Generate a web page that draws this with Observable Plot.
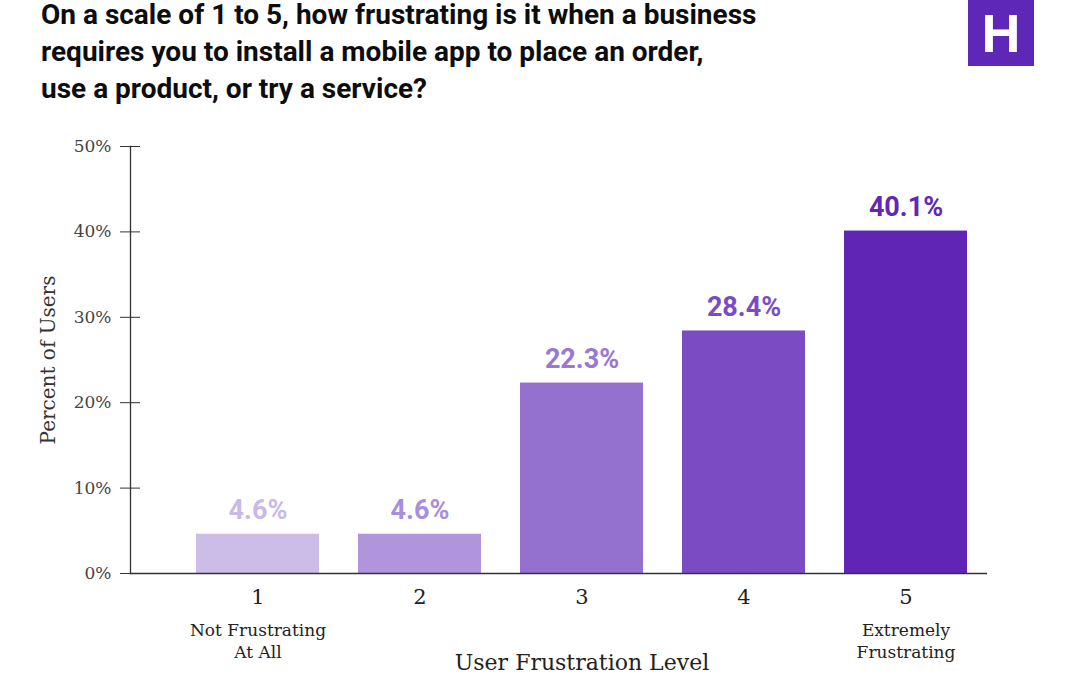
<!DOCTYPE html>
<html>
<head>
<meta charset="utf-8">
<script src="https://cdn.jsdelivr.net/npm/d3@7"></script>
<script src="https://cdn.jsdelivr.net/npm/@observablehq/plot@0.6"></script>
<style>
  html, body { margin: 0; padding: 0; background: #fff; width: 1080px; height: 675px; overflow: hidden; }
  #wrap { position: relative; width: 1080px; height: 675px; }
  #title { position: absolute; left: 41px; top: -4px; margin: 0; font-family: "Roboto", sans-serif; font-weight: 700; font-size: 28px; line-height: 37px; color: #0d0d0d; }
  #logo { position: absolute; left: 968px; top: 0px; width: 66px; height: 66px; background: #5f27b7; color: #fff; font-family: "Liberation Sans", sans-serif; font-weight: 700; font-size: 54px; line-height: 66px; text-align: center; }
  #chart { position: absolute; left: 0; top: 110px; }
</style>
</head>
<body>
<div id="wrap">
  <div id="title">On a scale of 1 to 5, how frustrating is it when a business<br>requires you to install a mobile app to place an order,<br>use a product, or try a service?</div>
  <div id="logo">H</div>
  <div id="chart"></div>
</div>
<script>
const levels = ["1", "2", "3", "4", "5"];
const percents = [4.6, 4.6, 22.3, 28.4, 40.1];
const valueLabels = ["4.6%", "4.6%", "22.3%", "28.4%", "40.1%"];
const subLabels = ["Not Frustrating\nAt All", "", "", "", "Extremely\nFrustrating"];
const barColors = ["#cbbde8", "#b095dc", "#9571cf", "#7b4bc4", "#6025b5"];
const labelColors = ["#c9b9e6", "#a98fd9", "#9a78d2", "#7a4cc4", "#6128b6"];
const yTicks = [0, 10, 20, 30, 40, 50];

const data = levels.map((l, i) => ({
  level: l, pct: percents[i], label: valueLabels[i], sub: subLabels[i],
  bar: barColors[i], lab: labelColors[i]
}));

const serif = "'DejaVu Serif', 'Liberation Serif', serif";
const sans = "'Roboto', 'Liberation Sans', sans-serif";

const chart = Plot.plot({
  width: 1080,
  height: 565,
  marginLeft: 130,
  marginRight: 93,
  marginTop: 36,
  marginBottom: 102,
  style: { background: "transparent", overflow: "visible" },
  x: { domain: levels, range: [177, 987], paddingInner: 0.24, paddingOuter: 0.12, label: null },
  y: { domain: [0, 50], label: null },
  marks: [
    Plot.barY(data, { x: "level", y: "pct", fill: d => d.bar }),
    Plot.text(data, {
      x: "level", y: "pct", text: "label", fill: d => d.lab,
      dy: -24, fontSize: 27, fontWeight: "bold", fontFamily: sans
    }),
    Plot.ruleY([0], { stroke: "#333", strokeWidth: 1.3 }),
    Plot.frame({ anchor: "left", stroke: "#333", strokeWidth: 1.3 }),
    Plot.axisY(yTicks, {
      tickSize: 20, dx: 10, tickPadding: 9, stroke: "#333",
      tickFormat: d => d + "%", fontSize: 17, fontFamily: serif, fill: "#444", label: null
    }),
    Plot.axisX({
      tickSize: 0, tickPadding: 16, fontSize: 21, fontFamily: serif, fill: "#222", label: null
    }),
    Plot.text(data, {
      x: "level", text: "sub", frameAnchor: "bottom", lineAnchor: "top",
      dy: 47, fontSize: 17, lineHeight: 1.3, fontFamily: serif, fill: "#222"
    }),
    Plot.text(["User Frustration Level"], {
      x: () => "3", text: d => d, frameAnchor: "bottom", dy: 96,
      fontSize: 22, fontFamily: serif, fill: "#222"
    }),
    Plot.text(["Percent of Users"], {
      text: d => d, frameAnchor: "left", textAnchor: "middle", dx: -82, rotate: -90,
      fontSize: 20, fontFamily: serif, fill: "#333"
    })
  ]
});
document.getElementById("chart").appendChild(chart);
</script>
</body>
</html>
